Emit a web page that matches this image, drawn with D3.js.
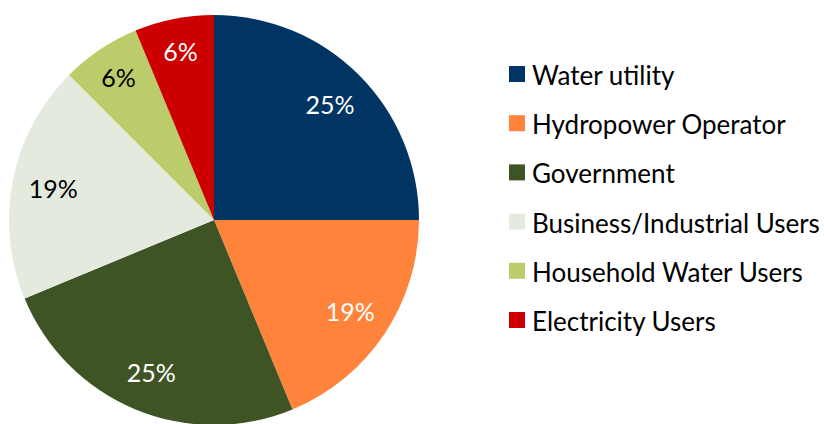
<!DOCTYPE html>
<html>
<head>
<meta charset="utf-8">
<script src="https://cdn.jsdelivr.net/npm/d3@7"></script>
<style>
  body { margin: 0; background: #fff; }
  #chart-container { width: 824px; height: 424px; }
</style>
</head>
<body>
<div id="chart-container"></div>
<script>
// Stakeholder shares (counts out of 16)
const categories = ["Water utility", "Hydropower Operator", "Government",
    "Business/Industrial Users", "Household Water Users", "Electricity Users"];
const counts = [4, 3, 4, 3, 1, 1];
const colors = ["#003462", "#FF833A", "#3F5425", "#E5EADF", "#BCCC6A", "#CC0000"];
const labelColors = ["#fff", "#fff", "#fff", "#000", "#000", "#fff"];

const width = 824;
const height = 424;
const cx = 214, cy = 220, radius = 205;
const fontFamily = "Lato, 'Open Sans', sans-serif";

const svg = d3.select("#chart-container")
    .append("svg")
    .attr("width", width)
    .attr("height", height);

const total = d3.sum(counts);
const data = categories.map((c, i) => ({ name: c, value: counts[i], i: i }));

const pie = d3.pie().value((d) => d.value).sort(null);
const arc = d3.arc().innerRadius(0).outerRadius(radius);

// small slices get their label pushed a little further out
function labelPos(d) {
    const r = (d.endAngle - d.startAngle) < 0.5 ? 172 : 164;
    return d3.arc().innerRadius(r).outerRadius(r).centroid(d);
}

const g = svg.append("g").attr("transform", `translate(${cx},${cy})`);

const slices = g.selectAll("g.slice")
    .data(pie(data))
    .enter()
    .append("g")
    .attr("class", "slice");

slices.append("path")
    .attr("d", arc)
    .attr("fill", (d) => colors[d.data.i]);

slices.append("text")
    .attr("transform", (d) => `translate(${labelPos(d)})`)
    .attr("text-anchor", "middle")
    .attr("dominant-baseline", "central")
    .attr("font-family", fontFamily)
    .attr("font-size", 25)
    .attr("fill", (d) => labelColors[d.data.i])
    .text((d) => Math.round(d.data.value / total * 100) + "%");

// Legend
const legendScale = d3.scalePoint()
    .domain(categories)
    .range([74, 320]);

const legend = svg.append("g")
    .selectAll("g")
    .data(data)
    .enter()
    .append("g")
    .attr("transform", (d) => `translate(509,${legendScale(d.name)})`);

legend.append("rect")
    .attr("x", 0)
    .attr("y", -8)
    .attr("width", 16)
    .attr("height", 16)
    .attr("fill", (d) => colors[d.i]);

legend.append("text")
    .attr("x", 23)
    .attr("y", 1)
    .attr("dominant-baseline", "central")
    .attr("font-family", fontFamily)
    .attr("font-size", 26)
    .attr("fill", "#000")
    .text((d) => d.name);
</script>
</body>
</html>
